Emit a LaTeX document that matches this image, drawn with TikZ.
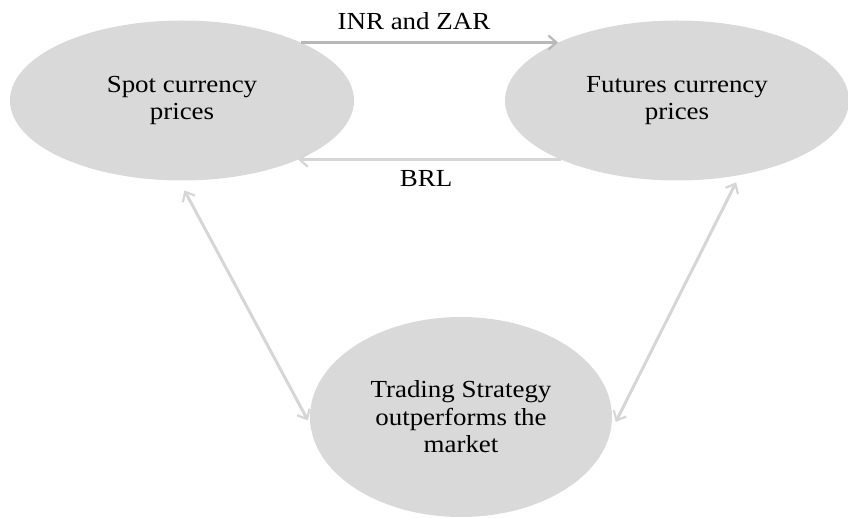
\documentclass[tikz,border=0pt]{standalone}
\usepackage{fontspec}
\setmainfont{Liberation Serif}[FakeStretch=1.1]
\usetikzlibrary{shapes.geometric,arrows.meta}
\definecolor{ellfill}{HTML}{D9D9D9}
\definecolor{arrdark}{HTML}{B8B8B8}
\definecolor{arrlight}{HTML}{D6D6D6}
\tikzset{
  bubble/.style={ellipse, fill=ellfill, draw=none, inner sep=0pt, align=center,
    font=\fontsize{24.5}{27.5}\selectfont},
  lbl/.style={font=\fontsize{24.5}{27}\selectfont, inner sep=0pt},
  conn/.style={line width=3pt, -{Straight Barb[length=8pt,width=14pt,line width=2.2pt]}},
  dconn/.style={line width=3pt, {Straight Barb[length=8pt,width=14pt,line width=2.2pt]}-{Straight Barb[length=8pt,width=14pt,line width=2.2pt]}}
}
\begin{document}
\begin{tikzpicture}[x=1pt,y=-1pt]
\useasboundingbox (0,0) rectangle (848,518);
\node[bubble, minimum width=344pt, minimum height=160pt] (spot) at (182,100.5) {\raisebox{-3pt}{\begin{tabular}{@{}c@{}}Spot currency\\prices\end{tabular}}};
\node[bubble, minimum width=344pt, minimum height=160pt] (fut) at (677,100.5) {\raisebox{-3pt}{\begin{tabular}{@{}c@{}}Futures currency\\prices\end{tabular}}};
\node[bubble, minimum width=302pt, minimum height=200pt] (trade) at (461,417) {Trading Strategy\\outperforms the\\market};
\draw[conn, draw=arrdark] (spot.26) -- (fut.154);
\draw[conn, draw=arrlight] (fut.-153) -- (spot.-27);
\draw[dconn, draw=arrlight, shorten <=11pt, shorten >=5pt] (spot.-92.5) -- (trade.183.7);
\draw[dconn, draw=arrlight, shorten <=8pt, shorten >=12pt] (fut.-50.3) -- (trade.-6.4);
\node[lbl] (inr) at (414,21) {INR and ZAR};
\node[lbl] (brl) at (426,179) {BRL};
\end{tikzpicture}
\end{document}
